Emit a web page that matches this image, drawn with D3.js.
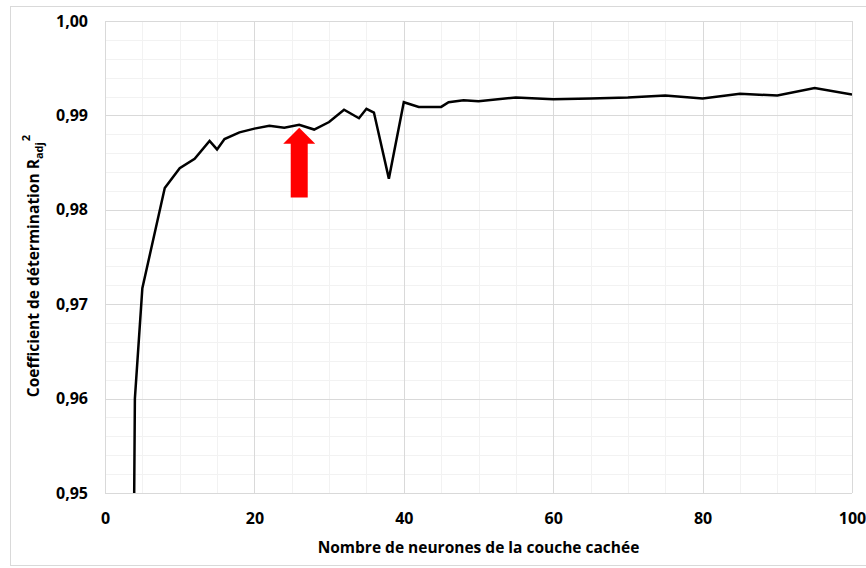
<!DOCTYPE html>
<html>
<head>
<meta charset="utf-8">
<script src="https://cdn.jsdelivr.net/npm/d3@7"></script>
<style>
  body { margin: 0; background: #fff; }
  text { font-family: "Open Sans", sans-serif; font-weight: bold; fill: #000; }
</style>
</head>
<body>
<script>
// Nombre de neurones (couche cachee) et R2 ajuste
var neurones = [3, 4, 5, 8, 10, 12, 14, 15, 16, 18, 20, 22, 24, 26, 28, 30, 32, 34, 35, 36, 38,
                40, 42, 45, 46, 48, 50, 55, 60, 65, 70, 75, 80, 85, 90, 95, 100];
var r2adj = [0.850, 0.9600, 0.9717, 0.9823, 0.9844, 0.9854, 0.9873, 0.9864, 0.9875, 0.9882, 0.9886,
             0.9889, 0.9887, 0.9890, 0.9885, 0.9893, 0.9906, 0.9897, 0.9907, 0.9903, 0.9833,
             0.9914, 0.9909, 0.9909, 0.9914, 0.9916, 0.9915, 0.9919, 0.9917, 0.9918, 0.9919,
             0.9921, 0.9918, 0.9923, 0.9921, 0.9929, 0.9922];

var xTicks = [0, 20, 40, 60, 80, 100];
var yTicks = [0.95, 0.96, 0.97, 0.98, 0.99, 1.00];

// arrow annotation (x, from, to)
var arrowX = 26, arrowFrom = 0.9813, arrowTo = 0.9887;

var w = 866, h = 568;
var margin = {left: 105, right: 14, top: 21, bottom: 75};

var svg = d3.select("body").append("svg")
    .attr("width", w)
    .attr("height", h);

// outer frame
svg.append("rect")
    .attr("x", 10.5).attr("y", 6.5)
    .attr("width", 870).attr("height", 559)
    .attr("fill", "none")
    .attr("stroke", "#d9d9d9");

var x = d3.scaleLinear().domain([0, 100]).range([margin.left, w - margin.right]);
var y = d3.scaleLinear().domain([0.95, 1.00]).range([h - margin.bottom, margin.top]);

// minor grid
var grid = svg.append("g");
grid.selectAll(".vminor")
    .data(d3.range(0, 101, 5))
    .enter().append("line")
    .attr("x1", function (d) { return Math.round(x(d)) + 0.5; })
    .attr("x2", function (d) { return Math.round(x(d)) + 0.5; })
    .attr("y1", y(0.95)).attr("y2", y(1.00))
    .attr("stroke", "#f2f2f2");
grid.selectAll(".hminor")
    .data(d3.range(0, 26).map(function (i) { return 0.95 + i * 0.002; }))
    .enter().append("line")
    .attr("x1", x(0)).attr("x2", x(100))
    .attr("y1", function (d) { return Math.round(y(d)) + 0.5; })
    .attr("y2", function (d) { return Math.round(y(d)) + 0.5; })
    .attr("stroke", "#f2f2f2");

// major grid
grid.selectAll(".vmajor")
    .data(xTicks)
    .enter().append("line")
    .attr("x1", function (d) { return Math.round(x(d)) + 0.5; })
    .attr("x2", function (d) { return Math.round(x(d)) + 0.5; })
    .attr("y1", y(0.95)).attr("y2", y(1.00))
    .attr("stroke", "#d9d9d9");
grid.selectAll(".hmajor")
    .data(yTicks)
    .enter().append("line")
    .attr("x1", x(0)).attr("x2", x(100))
    .attr("y1", function (d) { return Math.round(y(d)) + 0.5; })
    .attr("y2", function (d) { return Math.round(y(d)) + 0.5; })
    .attr("stroke", "#d9d9d9");

// axes labels via d3 axes
var fmt = function (d) { return d3.format(".2f")(d).replace(".", ","); };

var yAxis = svg.append("g")
    .attr("transform", "translate(" + x(0) + ",0)")
    .call(d3.axisLeft(y).tickValues(yTicks).tickFormat(fmt).tickSize(0).tickPadding(17));
yAxis.select(".domain").remove();
yAxis.selectAll("text").style("font-size", "16px").style("font-family", "Open Sans").style("font-weight", "bold");

var xAxis = svg.append("g")
    .attr("transform", "translate(0," + y(0.95) + ")")
    .call(d3.axisBottom(x).tickValues(xTicks).tickFormat(d3.format("d")).tickSize(0).tickPadding(20));
xAxis.select(".domain").remove();
xAxis.selectAll("text").style("font-size", "16px").style("font-family", "Open Sans").style("font-weight", "bold");

// clip
svg.append("clipPath").attr("id", "plot")
    .append("rect")
    .attr("x", x(0)).attr("y", y(1.00))
    .attr("width", x(100) - x(0)).attr("height", y(0.95) - y(1.00));

var line = d3.line()
    .x(function (d, i) { return x(neurones[i]); })
    .y(function (d) { return y(d); });

svg.append("path")
    .datum(r2adj)
    .attr("clip-path", "url(#plot)")
    .attr("d", line)
    .attr("fill", "none")
    .attr("stroke", "#000")
    .attr("stroke-width", 2.5)
    .attr("stroke-linejoin", "miter");

// red arrow
var ax = x(arrowX), yTip = y(arrowTo), yBot = y(arrowFrom), yHead = yTip + 16;
svg.append("path")
    .attr("d", "M" + ax + "," + yTip +
        "L" + (ax + 16) + "," + yHead +
        "L" + (ax + 8.5) + "," + yHead +
        "L" + (ax + 8.5) + "," + yBot +
        "L" + (ax - 8.5) + "," + yBot +
        "L" + (ax - 8.5) + "," + yHead +
        "L" + (ax - 16) + "," + yHead + "Z")
    .attr("fill", "#ff0000");

// titles
svg.append("text")
    .attr("x", (x(0) + x(100)) / 2)
    .attr("y", 553)
    .attr("text-anchor", "middle")
    .style("font-size", "15.5px")
    .text("Nombre de neurones de la couche cachée");

var yt = svg.append("text")
    .attr("transform", "translate(39,266) rotate(-90)")
    .attr("text-anchor", "middle")
    .style("font-size", "15.5px");
yt.append("tspan").text("Coefficient de détermination R");
yt.append("tspan").attr("dy", 4).style("font-size", "11px").text("adj");
yt.append("tspan").attr("dy", -13).attr("dx", 1).style("font-size", "11px").text("2");
</script>
</body>
</html>
